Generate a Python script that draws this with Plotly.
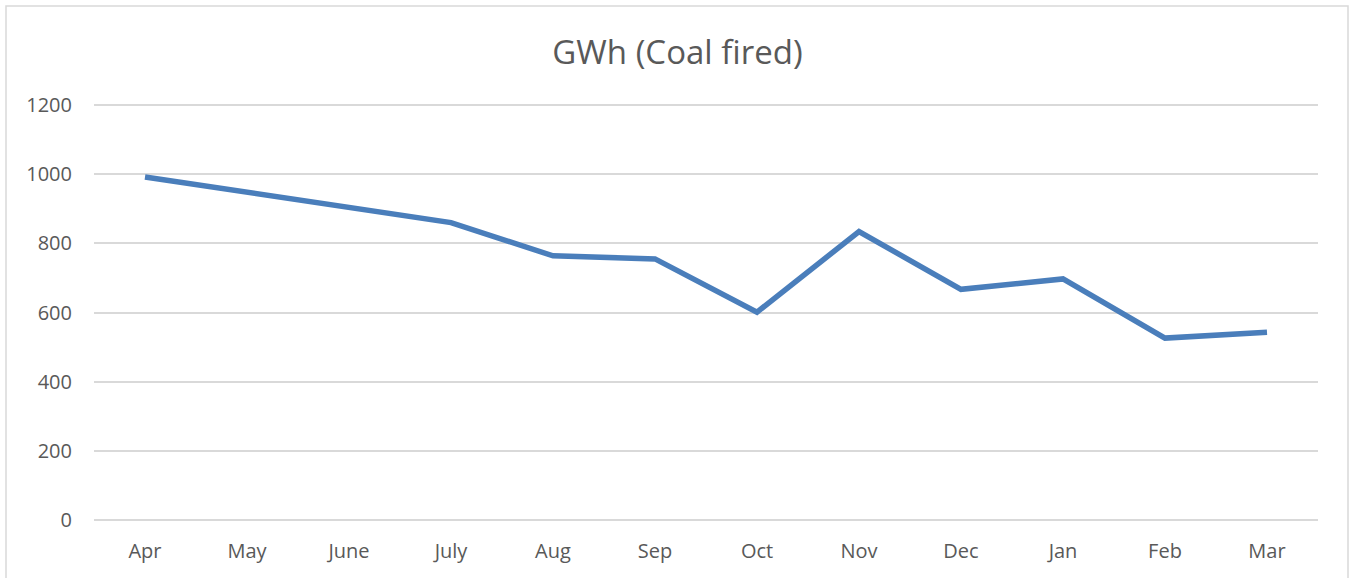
import plotly.graph_objects as go

months = ["Apr", "May", "June", "July", "Aug", "Sep", "Oct", "Nov", "Dec", "Jan", "Feb", "Mar"]
gwh = [992, 948, 904, 860, 764, 755, 601, 834, 667, 697, 526, 543]
y_ticks = [0, 200, 400, 600, 800, 1000, 1200]

fig = go.Figure()
fig.add_trace(go.Scatter(
    x=months, y=gwh, mode="lines",
    line=dict(color="#4A7EBB", width=5.5, shape="linear"),
    hoverinfo="x+y",
))

font_family = "Open Sans, Liberation Sans, sans-serif"
W, H = 1355, 578
L, R, T, B = 94, 37, 103, 56
pad = 2  # px of padding above 1200 and below 0 so edge gridlines are drawn
plot_w = W - L - R
plot_h = H - T - B
upp = 1200 / (plot_h - 2 * pad)
fig.update_layout(
    width=W, height=H,
    margin=dict(l=L, r=R, t=T, b=B),
    paper_bgcolor="white", plot_bgcolor="white",
    showlegend=False,
    title=dict(text="GWh (Coal fired)", x=0.5, xanchor="center", xref="container",
               yref="container", y=1 - 52 / H, yanchor="middle",
               font=dict(family=font_family, size=33, color="#595959")),
    xaxis=dict(type="category", range=[-0.5, len(months) - 0.5], showgrid=False,
               zeroline=False, showline=False, ticks="",
               tickfont=dict(family=font_family, size=20, color="#595959"),
               ticklabelstandoff=15),
    yaxis=dict(range=[-pad * upp, 1200 + pad * upp], tickvals=y_ticks, showgrid=True,
               gridcolor="#D9D9D9", gridwidth=1.5, zeroline=False, showline=False, ticks="",
               tickfont=dict(family=font_family, size=20, color="#595959"),
               ticklabelstandoff=21),
    shapes=[dict(type="rect", xref="paper", yref="paper",
                 x0=-(L - 6) / plot_w, x1=1 + (R - 7) / plot_w,
                 y0=-0.3, y1=1 + (T - 6) / plot_h,
                 line=dict(color="#D9D9D9", width=1.5), layer="below")],
)

fig.write_html("out.html", post_script="document.body.style.margin='0';",
               config={"displayModeBar": False})
